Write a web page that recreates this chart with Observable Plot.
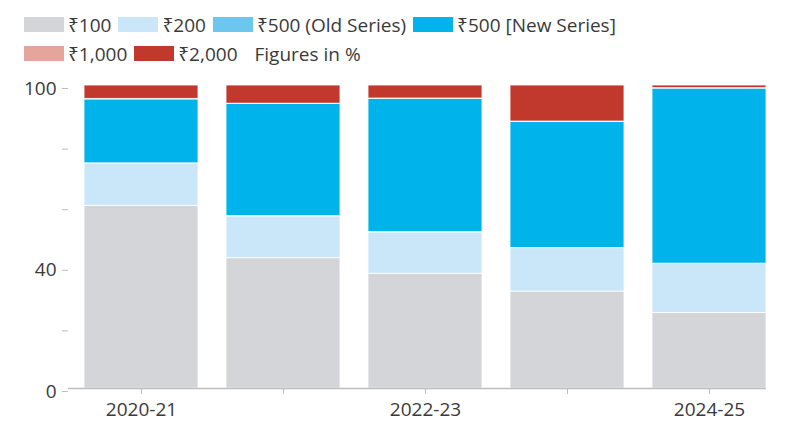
<!DOCTYPE html>
<html>
<head>
<meta charset="utf-8">
<script src="https://cdn.jsdelivr.net/npm/d3@7"></script>
<script src="https://cdn.jsdelivr.net/npm/@observablehq/plot@0.6"></script>
<style>
  html, body { margin: 0; padding: 0; background: #fff; }
  body { width: 788px; height: 430px; overflow: hidden; font-family: 'Open Sans', 'Noto Sans', sans-serif; color: #3a3a3a; }
  #legend { height: 70px; box-sizing: border-box; padding: 10px 0 0 24px; font-size: 19px; }
  .row { display: flex; align-items: center; height: 29px; white-space: nowrap; }
  .item { display: flex; align-items: center; margin-right: 7px; }
  .sw { width: 40px; height: 15px; margin-right: 4px; }
  .note { margin-left: 10px; }
</style>
</head>
<body>
<div id="legend"></div>
<div id="chart"></div>
<script>
const years = ["2020-21", "2021-22", "2022-23", "2023-24", "2024-25"];
const labeledYears = ["2020-21", "2022-23", "2024-25"];
const series = ["₹100", "₹200", "₹500 (Old Series)", "₹500 [New Series]", "₹1,000", "₹2,000"];
const colors = ["#d3d5d9", "#c9e7f8", "#6cc6ee", "#00b4eb", "#e6a59c", "#c1392d"];
const r100 = [60.3, 43.0, 37.9, 32.0, 24.9];
const r200 = [13.8, 13.8, 13.6, 14.3, 16.2];
const r500old = [0.2, 0.1, 0.1, 0.1, 0.1];
const r500new = [21.1, 37.0, 44.0, 41.6, 57.8];
const r1000 = [0.2, 0.1, 0.1, 0.1, 0.1];
const r2000 = [4.4, 6.0, 4.3, 11.9, 0.9];
const yTicks = [0, 20, 40, 60, 80, 100];
const yLabels = [0, 40, 100];
const note = "Figures in %";

const values = [r100, r200, r500old, r500new, r1000, r2000];
const data = [];
years.forEach((yr, i) => {
  series.forEach((s, k) => data.push({year: yr, denom: s, share: values[k][i]}));
});

// Legend
const legend = document.getElementById("legend");
const rows = [series.slice(0, 4), series.slice(4)];
rows.forEach((names, r) => {
  const row = document.createElement("div");
  row.className = "row";
  names.forEach(name => {
    const it = document.createElement("div");
    it.className = "item";
    const sw = document.createElement("div");
    sw.className = "sw";
    sw.style.background = colors[series.indexOf(name)];
    const t = document.createElement("span");
    t.textContent = name;
    it.appendChild(sw); it.appendChild(t);
    row.appendChild(it);
  });
  if (r === 1) {
    const n = document.createElement("span");
    n.className = "note";
    n.textContent = note;
    row.appendChild(n);
  }
  legend.appendChild(row);
});

const chart = Plot.plot({
  width: 788,
  height: 360,
  marginTop: 15,
  marginBottom: 42,
  marginLeft: 68,
  marginRight: 22,
  style: {fontFamily: "'Open Sans', 'Noto Sans', sans-serif", fontSize: "19px", background: "#fff", color: "#3a3a3a"},
  x: {domain: years, paddingInner: 0.2, paddingOuter: 0.05, align: 1, label: null},
  y: {domain: [0, 100], label: null},
  color: {domain: series, range: colors},
  marks: [
    Plot.barY(data, {x: "year", y: "share", fill: "denom", stroke: "#fff", strokeWidth: 0.8}),
    Plot.axisY({ticks: yTicks, tickSize: 6, tickPadding: 6, line: true, stroke: "#bdbdbd", fill: "#3a3a3a",
      tickFormat: d => yLabels.includes(d) ? String(d) : "", dy: 3}),
    Plot.axisX({tickSize: 6, tickPadding: 8, stroke: "#bdbdbd", fill: "#3a3a3a",
      tickFormat: d => labeledYears.includes(d) ? d : ""}),
    Plot.ruleY([0], {stroke: "#bdbdbd", strokeWidth: 1.5})
  ]
});
document.getElementById("chart").appendChild(chart);
</script>
</body>
</html>
